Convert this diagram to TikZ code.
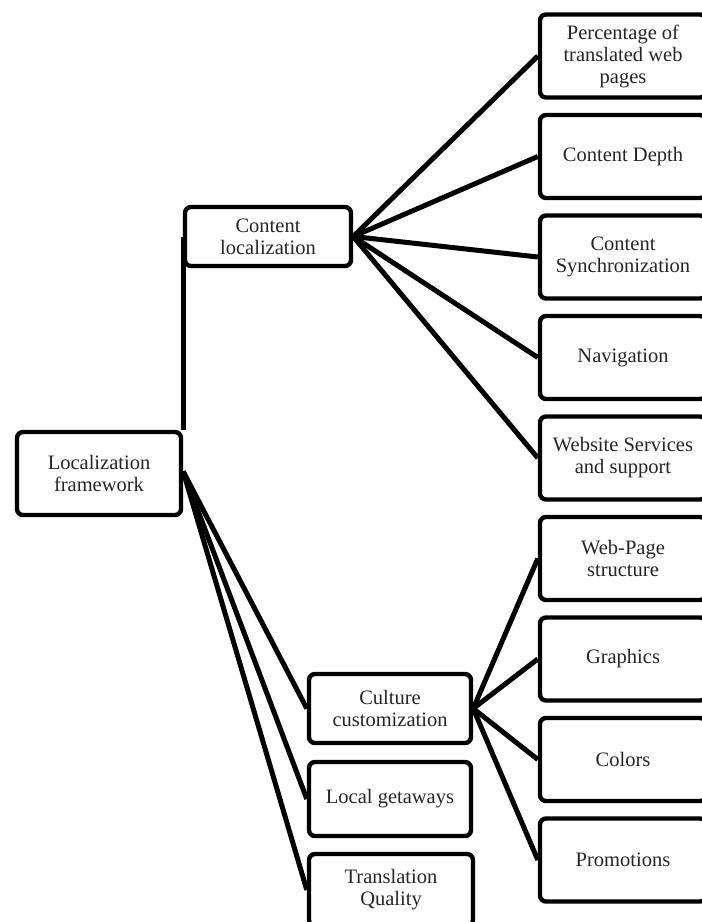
\documentclass[tikz,border=0pt]{standalone}
\usepackage{fontspec}
\setmainfont{Liberation Serif}
\usetikzlibrary{backgrounds}
\begin{document}
\begin{tikzpicture}[x=1pt,y=-1pt,
  box/.style={draw=black, line width=4.4pt, rounded corners=6pt, fill=white,
    align=center, inner sep=2pt, text=black!85,
    font=\fontsize{20.5}{22}\selectfont},
  rbox/.style={box, minimum width=166pt, minimum height=83pt},
  link/.style={line width=5pt, black}]
\useasboundingbox (0,0) rectangle (702,922);
\clip (0,0) rectangle (702,922);
% nodes
\node[box, minimum width=164pt, minimum height=83pt] (LF) at (99,473.5) {Localization\\framework};
\node[box, minimum width=166pt, minimum height=59pt] (CL) at (268,236.5) {Content\\localization};
\node[box, minimum width=162pt, minimum height=69pt] (CC) at (390,708.5) {Culture\\customization};
\node[box, minimum width=162pt, minimum height=74pt] (LG) at (390,799) {Local getaways};
\node[box, minimum width=164pt, minimum height=72pt] (TQ) at (391,890) {Translation\\Quality};
\node[rbox] (P1) at (623,56) {Percentage of\\translated web\\pages};
\node[rbox] (P2) at (623,156.5) {Content Depth};
\node[rbox] (P3) at (623,257) {Content\\Synchronization};
\node[rbox] (P4) at (623,357.5) {Navigation};
\node[rbox] (P5) at (623,458) {Website Services\\and support};
\node[rbox] (Q1) at (623,558.5) {Web-Page\\structure};
\node[rbox] (Q2) at (623,659) {Graphics};
\node[rbox] (Q3) at (623,759.5) {Colors};
\node[rbox] (Q4) at (623,860) {Promotions};
% connectors (behind boxes)
\begin{pgfonlayer}{background}
\path (LF.north east) coordinate (LFc);
\draw[link] (LFc) -- (LFc |- CL.west);
\foreach \t in {P1,P2,P3,P4,P5} \draw[link] (CL.east) -- (\t.west);
\foreach \t in {Q1,Q2,Q3,Q4} \draw[link] (CC.east) -- (\t.west);
\foreach \t in {CC,LG,TQ} \draw[link] ([yshift=2pt]LF.east) -- (\t.west);
\end{pgfonlayer}
\end{tikzpicture}
\end{document}
